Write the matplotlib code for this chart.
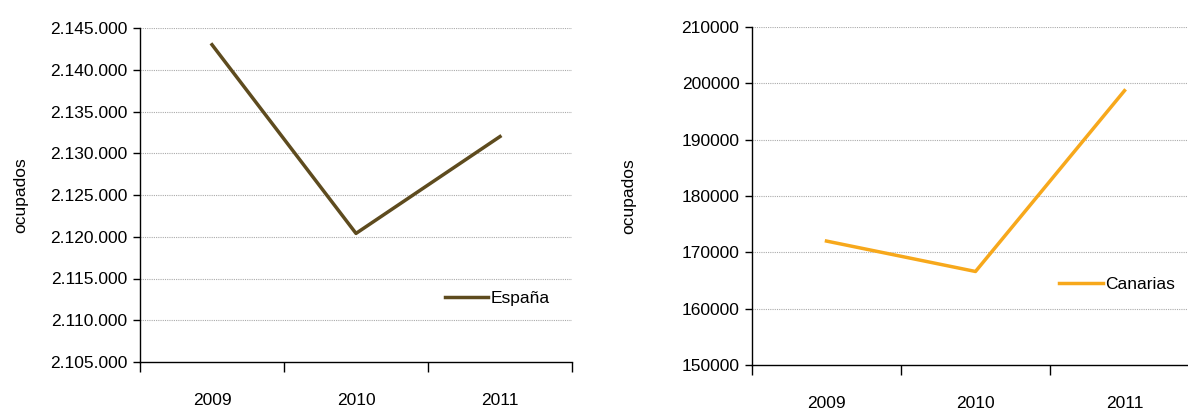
import matplotlib
matplotlib.use("Agg")
import matplotlib.pyplot as plt
from matplotlib.ticker import FuncFormatter

plt.rcParams['font.family'] = ['Liberation Sans', 'DejaVu Sans']

years = ["2009", "2010", "2011"]
espana = [2143000, 2120400, 2132000]
canarias = [172000, 166600, 198700]
esp_ticks = [2105000, 2110000, 2115000, 2120000, 2125000, 2130000, 2135000, 2140000, 2145000]
can_ticks = [150000, 160000, 170000, 180000, 190000, 200000, 210000]

FS = 12.5

fig = plt.figure(figsize=(11.88, 4.09), dpi=100)
ax1 = fig.add_axes([140/1188, 1-362/409, 432/1188, 334/409])
ax2 = fig.add_axes([752/1188, 1-365/409, 447/1188, 338/409])

def style(ax, ticks, fmt):
    xs = [i + 0.5 for i in range(len(years))]
    ax.set_xlim(0, len(years))
    ax.set_ylim(ticks[0], ticks[-1])
    ax.set_yticks(ticks)
    ax.yaxis.set_major_formatter(FuncFormatter(fmt))
    ax.set_xticks(range(len(years) + 1))
    ax.set_xticklabels([])
    ax.set_xticks(xs, minor=True)
    ax.set_xticklabels(years, minor=True, fontsize=FS)
    ax.tick_params(axis='x', which='major', length=7, direction='out', width=1)
    ax.tick_params(axis='x', which='minor', length=0, pad=22)
    ax.tick_params(axis='y', length=5, width=1, labelsize=FS, pad=4)
    for s in ['top', 'right']:
        ax.spines[s].set_visible(False)
    for s in ['left', 'bottom']:
        ax.spines[s].set_linewidth(1)
    for t in ticks[1:]:
        ax.axhline(t, color='#aaaaaa', linestyle=(0, (1, 1)), linewidth=0.8, zorder=0)
    ax.set_ylabel("ocupados", fontsize=FS)
    return xs

xs = style(ax1, esp_ticks, lambda v, p: f"{int(v):,}".replace(",", "."))
ax1.plot(xs, espana, color='#5E4B1E', linewidth=2.5, label="España")
ax1.legend(loc='center left', bbox_to_anchor=(0.685, 0.19), frameon=False,
           handlelength=2.5, handletextpad=0.15, borderpad=0, fontsize=FS)

xs = style(ax2, can_ticks, lambda v, p: f"{int(v)}")
ax2.plot(xs, canarias, color='#F7A81B', linewidth=2.5, label="Canarias")
ax2.legend(loc='center left', bbox_to_anchor=(0.668, 0.237), frameon=False,
           handlelength=2.5, handletextpad=0.15, borderpad=0, fontsize=FS)
ax1.yaxis.set_label_coords(-0.258, 0.5)
ax2.yaxis.set_label_coords(-0.26, 0.5)

fig.savefig("out.png", dpi=100)
